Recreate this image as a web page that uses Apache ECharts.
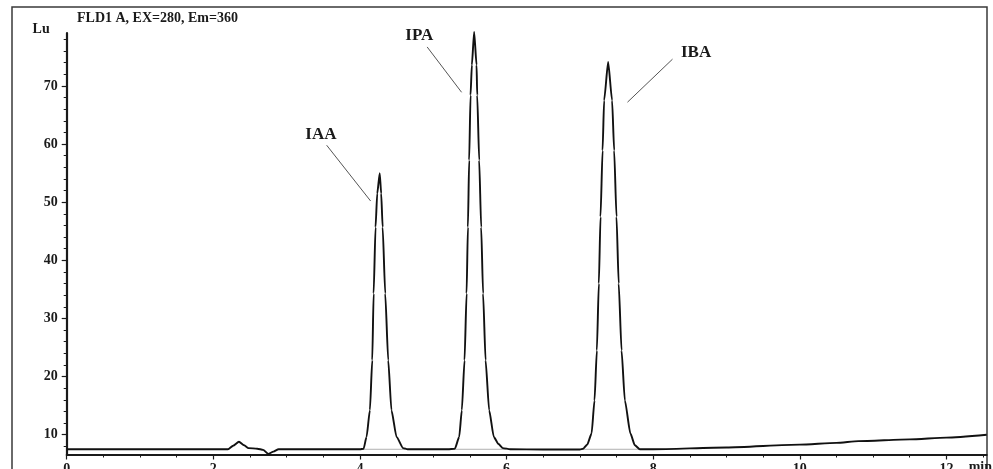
<!DOCTYPE html>
<html>
<head>
<meta charset="utf-8">
<script src="https://cdn.jsdelivr.net/npm/echarts@6/dist/echarts.min.js"></script>
<style>
html,body{margin:0;padding:0;background:#fff;}
#chart{width:993px;height:469px;}
</style>
</head>
<body>
<div id="chart"></div>
<script>
// ---- data ----
const chartTitle = 'FLD1 A, EX=280, Em=360';
const yUnit = 'Lu';
const xUnit = 'min';

// retention time (min) and fluorescence signal (Lu)
const times = [
  0, 2.20, 2.27, 2.35, 2.42, 2.48, 2.60, 2.68, 2.75, 2.82, 2.89, 4.00,
  4.05, 4.09, 4.136, 4.168, 4.187, 4.213, 4.236, 4.27, 4.29, 4.31, 4.345, 4.386, 4.43, 4.50, 4.59, 4.65,
  5.20, 5.295, 5.354, 5.39, 5.427, 5.455, 5.473, 5.49, 5.509, 5.527, 5.558, 5.591, 5.60, 5.627, 5.654, 5.68, 5.714, 5.763, 5.827, 5.89, 5.95, 6.05,
  6.50, 7.00, 7.045, 7.10, 7.16, 7.20, 7.232, 7.259, 7.282, 7.31, 7.331, 7.386, 7.44, 7.468, 7.50, 7.53, 7.569, 7.614, 7.69, 7.75, 7.818,
  8.00, 9.00, 10.00, 10.50, 10.80, 11.50, 12.00, 12.55
];
const signal = [
  7.5, 7.5, 8.1, 8.8, 8.2, 7.7, 7.6, 7.4, 6.7, 7.1, 7.5, 7.5,
  7.6, 9.6, 14.2, 22.8, 34.3, 45.7, 51.5, 55.0, 51.5, 45.7, 34.3, 22.8, 14.2, 9.6, 7.7, 7.5,
  7.5, 7.6, 9.6, 14.2, 22.8, 34.3, 45.7, 57.2, 68.4, 73.6, 79.3, 73.6, 68.4, 57.2, 45.7, 34.3, 22.8, 14.2, 9.6, 8.4, 7.7, 7.5,
  7.45, 7.45, 7.6, 8.3, 10.2, 15.9, 24.5, 36.0, 47.5, 58.9, 67.5, 74.1, 67.5, 58.9, 47.5, 36.0, 24.5, 15.9, 10.2, 8.2, 7.5,
  7.5, 7.8, 8.3, 8.6, 8.9, 9.2, 9.5, 10.0
];

// integration baselines drawn under the peaks (start, end of each peak)
const baseTimes  = [4.02, 4.62, null, 5.30, 6.00, null, 7.04, 7.82];
const baseValues = [7.5, 7.5, null, 7.5, 7.5, null, 7.5, 7.5];

// peak names and where they are written
const peakNames  = ['IAA', 'IPA', 'IBA'];
const peakLabelT = [3.468, 4.811, 8.585];
const peakLabelV = [61.7, 78.6, 75.7];

// leader lines from label to peak (pairs separated by null)
const leaderTimes  = [3.546, 4.146, null, 4.917, 5.387, null, 8.264, 7.650];
const leaderValues = [59.8, 50.2, null, 76.7, 68.9, null, 74.6, 67.2];

// tick labels
const xTicks = [0, 2, 4, 6, 8, 10, 12];
const xMinorTicks = [0.5, 1, 1.5, 2.5, 3, 3.5, 4.5, 5, 5.5, 6.5, 7, 7.5, 8.5, 9, 9.5, 10.5, 11, 11.5, 12.5];
const yTicks = [10, 20, 30, 40, 50, 60, 70];
const yMinorTicks = [8, 12, 14, 16, 18, 22, 24, 26, 28, 32, 34, 36, 38, 42, 44, 46, 48, 52, 54, 56, 58, 62, 64, 66, 68, 72, 74, 76, 78];

// ---- chart ----
const font = 'Liberation Serif';
const ink = '#1a1a1a';
const pair = (a, b) => a.map((t, i) => (t === null ? [null, null] : [t, b[i]]));

const X_MIN = 0, X_MAX = 12.55, Y_MIN = 6.6, Y_MAX = 79.1;

const chart = echarts.init(document.getElementById('chart'), null, { renderer: 'canvas' });
chart.setOption({
  animation: false,
  backgroundColor: '#ffffff',
  title: {
    text: chartTitle,
    left: 77, top: 11, padding: 0,
    textStyle: { fontFamily: font, fontWeight: 'bold', fontSize: 14, color: ink }
  },
  graphic: [{
    type: 'rect', z: -1, silent: true,
    shape: { x: 12, y: 7, width: 975, height: 500 },
    style: { fill: null, stroke: '#3a3a3a', lineWidth: 1.5 }
  }],
  grid: { left: 66.7, right: 6.3, top: 33, bottom: 14.5, containLabel: false, outerBoundsMode: 'none' },
  xAxis: [{
    type: 'value', min: X_MIN, max: X_MAX,
    name: xUnit, nameLocation: 'end', nameGap: -18,
    nameTextStyle: { fontFamily: font, fontWeight: 'bold', fontSize: 14, color: ink, align: 'left', verticalAlign: 'top', padding: [6, 0, 0, 0] },
    axisLine: { show: true, lineStyle: { color: ink, width: 2 } },
    axisTick: { show: true, length: 5, customValues: xTicks, lineStyle: { color: ink, width: 1.2 } },
    axisLabel: { customValues: xTicks, margin: 8, fontFamily: font, fontWeight: 'bold', fontSize: 14, color: ink },
    splitLine: { show: false }
  }, {
    type: 'value', min: X_MIN, max: X_MAX, position: 'bottom',
    axisLine: { show: false },
    axisTick: { show: true, length: 3, customValues: xMinorTicks, lineStyle: { color: ink, width: 1 } },
    axisLabel: { show: false },
    splitLine: { show: false }
  }],
  yAxis: [{
    type: 'value', min: Y_MIN, max: Y_MAX,
    name: yUnit, nameLocation: 'end', nameGap: 4,
    nameTextStyle: { fontFamily: font, fontWeight: 'bold', fontSize: 14, color: ink, align: 'right', verticalAlign: 'middle', padding: [0, 17, 0, 0] },
    axisLine: { show: true, lineStyle: { color: ink, width: 2.2 } },
    axisTick: { show: true, length: 5, customValues: yTicks, lineStyle: { color: ink, width: 1.2 } },
    axisLabel: { customValues: yTicks, margin: 9, fontFamily: font, fontWeight: 'bold', fontSize: 14, color: ink },
    splitLine: { show: false }
  }, {
    type: 'value', min: Y_MIN, max: Y_MAX, position: 'left',
    axisLine: { show: false },
    axisTick: { show: true, length: 3, customValues: yMinorTicks, lineStyle: { color: ink, width: 1 } },
    axisLabel: { show: false },
    splitLine: { show: false }
  }],
  series: [{
    type: 'line', name: 'baseline', xAxisIndex: 0, yAxisIndex: 0,
    data: pair(baseTimes, baseValues), connectNulls: false,
    showSymbol: false, silent: true, z: 1,
    lineStyle: { color: '#b0b0b0', width: 1 }
  }, {
    type: 'line', name: 'signal', xAxisIndex: 0, yAxisIndex: 0,
    data: pair(times, signal), showSymbol: false, clip: false,
    smooth: 0.2, smoothMonotone: 'x', z: 3,
    lineStyle: { color: '#111', width: 1.9 }
  }, {
    type: 'line', name: 'leaders', xAxisIndex: 0, yAxisIndex: 0,
    data: pair(leaderTimes, leaderValues), connectNulls: false,
    showSymbol: false, silent: true, z: 2,
    lineStyle: { color: '#555', width: 1 }
  }, {
    type: 'scatter', name: 'labels', xAxisIndex: 0, yAxisIndex: 0,
    symbolSize: 0, silent: true, z: 4,
    itemStyle: { opacity: 1 },
    data: peakNames.map((n, i) => ({ name: n, value: [peakLabelT[i], peakLabelV[i]] })),
    label: {
      show: true, position: 'inside', formatter: p => p.name,
      fontFamily: font, fontWeight: 'bold', fontSize: 17, color: ink, opacity: 1,
      textBorderWidth: 0, textBorderColor: 'transparent'
    }
  }]
});
</script>
</body>
</html>
